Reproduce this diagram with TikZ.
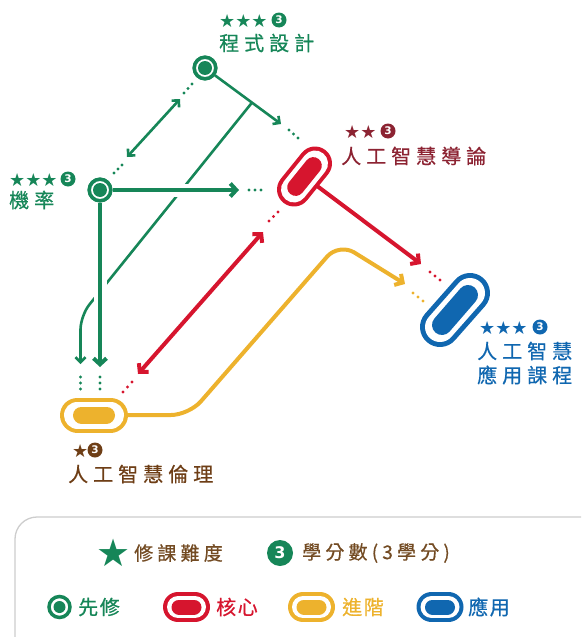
\documentclass[tikz,border=0pt]{standalone}
\usepackage{fontspec}
\usetikzlibrary{arrows.meta,calc}
\setmainfont{Noto Sans CJK TC}
\newfontfamily\cjk[LetterSpace=25,FakeBold=0.6]{Noto Sans CJK TC}
\newfontfamily\cjkl[LetterSpace=22,FakeBold=0.6]{Noto Sans CJK TC}
\newfontfamily\cjkt[LetterSpace=8,FakeBold=0.6]{Noto Sans CJK TC}
\newfontfamily\starf{DejaVu Sans}
\newfontfamily\numf{DejaVu Sans}
\definecolor{cgreen}{RGB}{22,134,88}
\definecolor{cred}{RGB}{214,21,46}
\definecolor{cyellow}{RGB}{237,178,45}
\definecolor{cblue}{RGB}{16,103,176}
\definecolor{cdred}{RGB}{140,35,50}
\definecolor{cbrown}{RGB}{110,62,22}
\definecolor{cbrownl}{RGB}{115,75,35}
\definecolor{cgray}{RGB}{205,205,205}
\newcommand\threedots[3]{\fill[#1] #2 circle (1.6) ($#2!0.5!#3$) circle (1.6) #3 circle (1.6);}
\begin{document}
\begin{tikzpicture}[x=1pt,y=-1pt,
  gthin/.style={draw=cgreen,line width=2.6pt},
  gthick/.style={draw=cgreen,line width=4pt},
  rthick/.style={draw=cred,line width=4pt},
  ythick/.style={draw=cyellow,line width=4pt},
  halo/.style={draw=white,line width=13pt},
  barbs/.style={-{Straight Barb[length=5pt,width=10pt]}},
  barbsb/.style={{Straight Barb[length=5pt,width=10pt]}-{Straight Barb[length=5pt,width=10pt]}},
  barbl/.style={-{Straight Barb[length=6pt,width=13pt]}},
  barblb/.style={{Straight Barb[length=6pt,width=13pt]}-{Straight Barb[length=6pt,width=13pt]}},
  ringnode/.style={circle,draw=cgreen,fill=white,line width=3.5pt,minimum size=21.5pt,inner sep=0pt},
  stars/.style={text=#1,font=\starf\fontsize{18}{18}\selectfont,inner sep=0pt},
  num/.style={circle,fill=#1,text=white,inner sep=0pt,minimum size=15pt,font=\numf\bfseries\fontsize{10.5}{10.5}\selectfont},
  lbl/.style={text=#1,font=\cjk\fontsize{20}{20}\selectfont,inner sep=0pt},
  leg/.style={text=#1,font=\cjkt\fontsize{20}{20}\selectfont,inner sep=0pt,anchor=west},
  legb/.style={text=#1,font=\cjkl\fontsize{19}{19}\selectfont,inner sep=0pt,anchor=west}
]
\useasboundingbox (0,0) rectangle (581,637);
\clip (0,0) rectangle (581,637);

% ---- course nodes (positions) ----
\node[ringnode] (prog) at (205,68) {};
\node[ringnode] (prob) at (100,190) {};
\coordinate (intro) at (304.5,176.5);
\coordinate (app) at (455,310);
\coordinate (eth) at (94,415);

% ---- tips and bends ----
\coordinate (tA) at (281,124);
\coordinate (tB1) at (180,99);
\coordinate (tB2) at (127,157);
\coordinate (tC) at (239,190);
\coordinate (tD) at (100,367);
\coordinate (tE) at (80.5,364);
\coordinate (tF) at (421,264);
\coordinate (tG1) at (263,232);
\coordinate (tG2) at (138,374);
\coordinate (tH) at (405,284);
\coordinate (brk) at ($(prog.center)!0.618!(tA)$);
\coordinate (bend) at (80.5,315.6);

% ---- green connectors ----
\draw[gthin,barbs] (prog) -- (tA);
\draw[gthin,rounded corners=14pt,barbs] (brk) -- (bend) -- (tE);
\draw[gthin,barbsb] (tB1) -- (tB2);
\draw[halo] (prob) -- ($(tC)+(-10,0)$);
\draw[halo] (prob) -- ($(tD)+(0,-10)$);
\draw[gthick,barbl] (prob) -- (tC);
\draw[gthick,barbl] (prob) -- (tD);

% ---- red / yellow connectors ----
\draw[rthick,barbl] (intro) -- (tF);
\draw[rthick,barblb] (tG1) -- (tG2);
\draw[ythick,rounded corners=18pt,barbl] (eth) -- (189,415) -- (339,243) -- (tH);

% ---- dots ----
\threedots{cgreen}{(289,130)}{(298,138)}
\threedots{cgreen}{(249,190)}{(261,190)}
\threedots{cgreen}{(100,377)}{(100,389)}
\threedots{cgreen}{(80.5,377)}{(80.5,389)}
\threedots{cgreen}{(184,93)}{(192,84)}
\threedots{cgreen}{(114,173)}{(122,165)}
\threedots{cred}{(269,221)}{(278,212)}
\threedots{cred}{(123,392)}{(132,382)}
\threedots{cred}{(430,272)}{(440,280)}
\threedots{cyellow}{(413,293)}{(423,301)}

% ---- circles on top ----
\draw[cgreen,fill=white,line width=3.5pt] (prog.center) circle (10.75);
\fill[cgreen] (prog.center) circle (7);
\draw[cgreen,fill=white,line width=3.5pt] (prob.center) circle (10.75);
\fill[cgreen] (prob.center) circle (7);

% ---- pills ----
\draw[cred,line width=34pt,line cap=round] ($(intro)+(-10.5,13)$) -- ($(intro)+(10.5,-13)$);
\draw[white,line width=26pt,line cap=round] ($(intro)+(-10.5,13)$) -- ($(intro)+(10.5,-13)$);
\draw[cred,line width=17pt,line cap=round] ($(intro)+(-8.8,10.9)$) -- ($(intro)+(8.8,-10.9)$);

\draw[cblue,line width=40pt,line cap=round] ($(app)+(-15,17)$) -- ($(app)+(15,-17)$);
\draw[white,line width=30pt,line cap=round] ($(app)+(-15,17)$) -- ($(app)+(15,-17)$);
\draw[cblue,line width=20pt,line cap=round] ($(app)+(-13,15)$) -- ($(app)+(13,-15)$);

\draw[cyellow,line width=35pt,line cap=round] ($(eth)+(-16.5,0)$) -- ($(eth)+(16.5,0)$);
\draw[white,line width=27pt,line cap=round] ($(eth)+(-16.5,0)$) -- ($(eth)+(16.5,0)$);
\draw[cyellow,line width=17pt,line cap=round] ($(eth)+(-12.5,0)$) -- ($(eth)+(12.5,0)$);

% ---- labels ----
\node[stars=cgreen,anchor=west] (progS) at (219,21) {★★★};
\node[num=cgreen] (progN) at (279,20) {3};
\node[lbl=cgreen,anchor=west] (progT) at (219,43) {程式設計};

\node[stars=cgreen,anchor=west] (probS) at (9,180) {★★★};
\node[num=cgreen] (probN) at (68,179) {3};
\node[lbl=cgreen,anchor=west] (probT) at (9,200) {機率};

\node[stars=cdred,anchor=west] (introS) at (344,132) {★★};
\node[num=cdred] (introN) at (388,131) {3};
\node[lbl=cdred,anchor=west] (introT) at (341,156) {人工智慧導論};

\node[stars=cblue,anchor=west] (appS) at (479,328) {★★★};
\node[num=cblue] (appN) at (540,327) {3};
\node[lbl=cblue,anchor=west] (appT1) at (477,351) {人工智慧};
\node[lbl=cblue,anchor=west] (appT2) at (477,375) {應用課程};

\node[stars=cbrown,anchor=west] (ethS) at (72,451) {★};
\node[num=cbrown] (ethN) at (95,450) {3};
\node[lbl=cbrown,anchor=west] (ethT) at (68,474) {人工智慧倫理};

% ---- legend ----
\draw[cgray,line width=1.3pt,rounded corners=22pt] (15,517) rectangle (640,700);
\node[text=cgreen,font=\numf\fontsize{38}{38}\selectfont,inner sep=0pt] (lstar) at (113.5,553) {★};
\node[legb=cbrownl] (ldiff) at (134,553) {修課難度};
\node[num=cgreen,minimum size=26pt,font=\numf\bfseries\fontsize{16}{16}\selectfont] (lnum) at (280,553) {3};
\node[legb=cbrownl] (lcred) at (302,553) {學分數(3學分)};

\node[circle,draw=cgreen,line width=3.5pt,minimum size=21pt,inner sep=0pt] (lpre) at (59.5,607) {};
\fill[cgreen] (lpre.center) circle (6);
\node[leg=cgreen] (lpreT) at (78,607) {先修};

\coordinate (lcore) at (186.5,607);
\draw[cred,line width=30pt,line cap=round] ($(lcore)+(-8.5,0)$) -- ($(lcore)+(8.5,0)$);
\draw[white,line width=22pt,line cap=round] ($(lcore)+(-8.5,0)$) -- ($(lcore)+(8.5,0)$);
\draw[cred,line width=15pt,line cap=round] ($(lcore)+(-7.5,0)$) -- ($(lcore)+(7.5,0)$);
\node[leg=cred] (lcoreT) at (216,607) {核心};

\coordinate (ladv) at (311.5,607);
\draw[cyellow,line width=30pt,line cap=round] ($(ladv)+(-8.5,0)$) -- ($(ladv)+(8.5,0)$);
\draw[white,line width=22pt,line cap=round] ($(ladv)+(-8.5,0)$) -- ($(ladv)+(8.5,0)$);
\draw[cyellow,line width=15pt,line cap=round] ($(ladv)+(-7.5,0)$) -- ($(ladv)+(7.5,0)$);
\node[leg=cyellow] (ladvT) at (342,607) {進階};

\coordinate (lapp) at (440,607);
\draw[cblue,line width=30pt,line cap=round] ($(lapp)+(-8.5,0)$) -- ($(lapp)+(8.5,0)$);
\draw[white,line width=22pt,line cap=round] ($(lapp)+(-8.5,0)$) -- ($(lapp)+(8.5,0)$);
\draw[cblue,line width=15pt,line cap=round] ($(lapp)+(-7.5,0)$) -- ($(lapp)+(7.5,0)$);
\node[leg=cblue] (lappT) at (468,607) {應用};
\end{tikzpicture}
\end{document}
